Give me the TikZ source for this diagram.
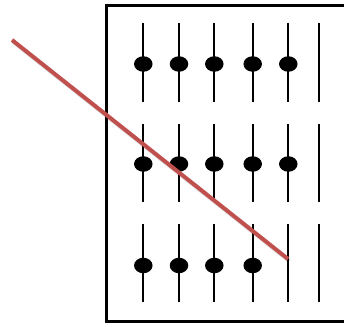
\documentclass[tikz,border=0pt]{standalone}
\usetikzlibrary{shapes.geometric}
\definecolor{slashred}{HTML}{C0504D}
\begin{document}
\begin{tikzpicture}[x=1pt,y=-1pt,
  frame/.style={line width=3pt},
  stem/.style={line width=1.8pt},
  dot/.style={ellipse,fill=black,inner sep=0pt,minimum width=18.5pt,minimum height=15.5pt},
  slash/.style={line width=4pt,slashred}]
\useasboundingbox (0,0) rectangle (344,326);
\begin{scope}
\clip (0,0) rectangle (344,326);
\draw[frame] (350,5.5) -- (106,5.5) -- (106,321) -- (350,321);
\end{scope}
% stems
\foreach \x in {143.3,179,214.3,252.7,288.3,319.3}{
  \foreach \ya/\yb in {23/102,124/202,224/302}{
    \draw[stem] (\x,\ya) -- (\x,\yb);
  }
}
% dots
\foreach \x [count=\i] in {143.3,179,214.3,252.7,288.3}{
  \node[dot] (a\i) at (\x,64) {};
  \node[dot] (b\i) at (\x,164) {};
}
\foreach \x [count=\i] in {143.3,179,214.3,252.7}{
  \node[dot] (c\i) at (\x,265.5) {};
}
% slash
\coordinate (s) at (12,40);
\coordinate (e) at (288,259);
\draw[line width=4pt,black,opacity=0.12] ([shift={(1.2,2)}]s) -- ([shift={(1.2,2)}]e);
\draw[slash] (s) -- (e);
\end{tikzpicture}
\end{document}
